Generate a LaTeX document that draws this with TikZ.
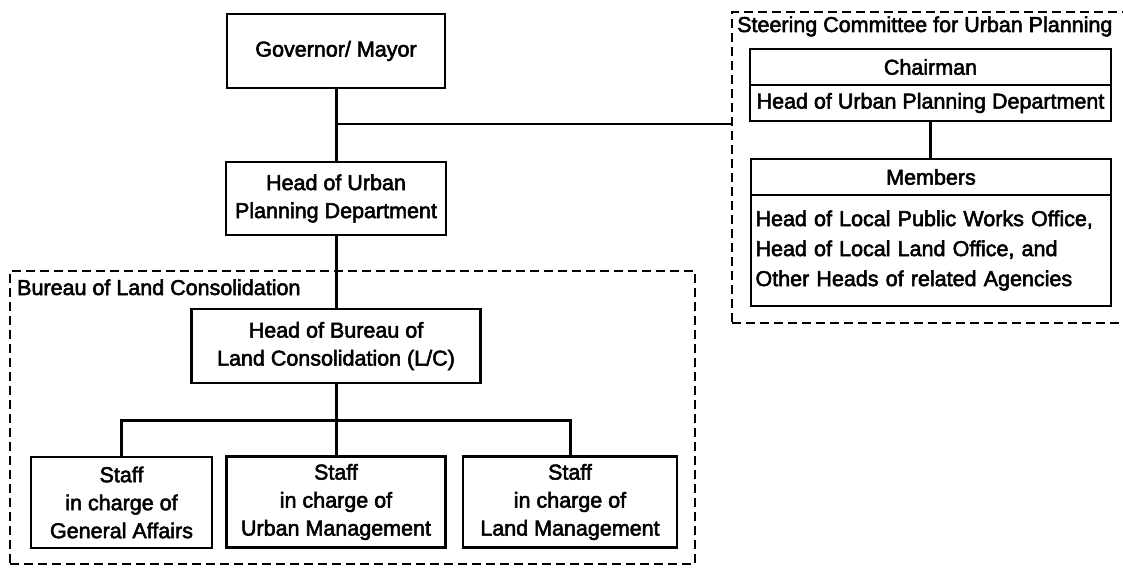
\documentclass[tikz,border=0pt]{standalone}
\usepackage{fontspec}
\setmainfont[FakeBold=2.5]{Liberation Sans}
\begin{document}
\begin{tikzpicture}[x=1pt,y=-1pt,
  txt/.style={font={\fontsize{21.5}{28}\selectfont}},
  box/.style={draw, line width=2.3pt, rectangle, inner sep=0pt, align=center, txt},
  grp/.style={draw, line width=2.5pt, dash pattern=on 9pt off 5pt, rectangle, inner sep=0pt},
  link/.style={line width=3pt},
  thinlink/.style={line width=2pt}]
\useasboundingbox (0,0) rectangle (1123,567);
\clip (0,0) rectangle (1123,567);
\fill[white] (0,0) rectangle (1123,567);

% group frames
\node[grp, minimum width=685pt, minimum height=293pt] (bureau) at (352.5,417.5) {};
\node[grp, minimum width=408pt, minimum height=311pt] (steer) at (936,167.5) {};
\node[txt, anchor=base west, inner sep=0pt] (bureaulbl) at (17,295) {Bureau of Land Consolidation};
\node[txt, anchor=base west, inner sep=0pt] (steerlbl) at (737,32) {Steering Committee for Urban Planning};

% main chain
\node[box, minimum width=218pt, minimum height=74pt] (gov) at (336,51) {Governor/ Mayor};
\node[box, minimum width=220pt, minimum height=73pt] (upd) at (336,198.5) {Head of Urban\\Planning Department};
\node[box, minimum width=289pt, minimum height=74pt] (hbl) at (336,346) {Head of Bureau of\\Land Consolidation (L/C)};

% staff
\node[box, minimum width=181pt, minimum height=91pt] (s1) at (121.5,502.5) {Staff\\in charge of\\General Affairs};
\node[box, minimum width=219pt, minimum height=91pt] (s2) at (336,502) {Staff\\in charge of\\Urban Management};
\node[box, minimum width=214pt, minimum height=91pt] (s3) at (570,502) {Staff\\in charge of\\Land Management};

% steering committee members
\node[box, minimum width=361pt, minimum height=36pt] (chair) at (930.5,67) {Chairman};
\node[box, minimum width=361pt, minimum height=36pt] (chairupd) at (930.5,103) {Head of Urban Planning Department};
\node[box, minimum width=360pt, minimum height=36pt] (memhead) at (931,177) {Members};
\node[box, minimum width=360pt, minimum height=111pt, text width=355pt, align=left,
      font={\fontsize{21.5}{30}\selectfont}] (membody) at (931,250.5)
  {\hspace*{2pt}Head of Local Public Works Office,\\\hspace*{2pt}Head of Local Land Office, and\\\hspace*{2pt}Other Heads of related Agencies};

% connectors
\coordinate (br) at (336,124);
\coordinate (bus) at (336,420);
\draw[link] (gov.south) -- (upd.north);
\draw[thinlink] (br) -- (br -| steer.west);
\draw[link] (upd.south) -- (hbl.north);
\draw[link] (hbl.south) -- (bus);
\draw[link] (s1.north) |- (bus) -| (s3.north);
\draw[link] (bus) -- (s2.north);
\draw[link] (chairupd.south) -- (chairupd.south |- memhead.north);
\end{tikzpicture}
\end{document}
